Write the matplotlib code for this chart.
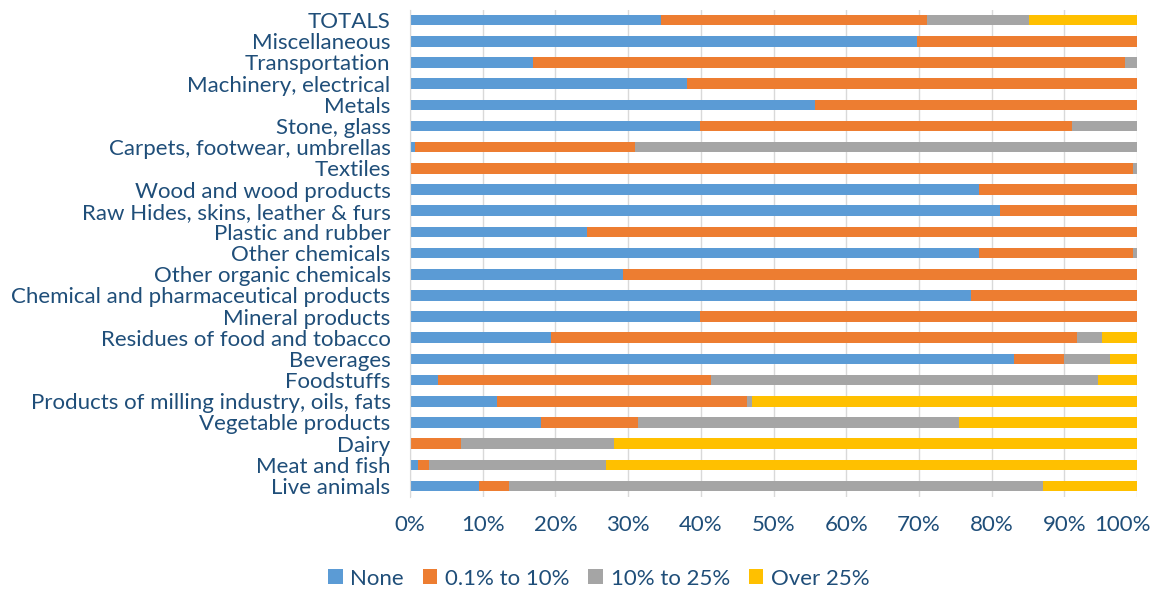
import matplotlib.pyplot as plt
import matplotlib.transforms as mtransforms
import numpy as np

plt.rcParams['font.family'] = ['Lato', 'DejaVu Sans']

# categories, bottom to top
categories = ['Live animals', 'Meat and fish', 'Dairy', 'Vegetable products',
              'Products of milling industry, oils, fats', 'Foodstuffs', 'Beverages',
              'Residues of food and tobacco', 'Mineral products',
              'Chemical and pharmaceutical products', 'Other organic chemicals',
              'Other chemicals', 'Plastic and rubber', 'Raw Hides, skins, leather & furs',
              'Wood and wood products', 'Textiles', 'Carpets, footwear, umbrellas',
              'Stone, glass', 'Metals', 'Machinery, electrical', 'Transportation',
              'Miscellaneous', 'TOTALS']

none_ = [9.5, 1.1, 0.0, 18.0, 12.0, 3.9, 83.1, 19.4, 39.9, 77.1, 29.3, 78.3, 24.4,
         81.2, 78.3, 0.0, 0.7, 39.9, 55.7, 38.1, 16.9, 69.7, 34.5]
low = [4.1, 1.5, 7.0, 13.4, 34.3, 37.5, 6.8, 72.3, 60.1, 22.9, 70.7, 21.2, 75.6,
       18.8, 21.7, 99.4, 30.2, 51.1, 44.3, 61.9, 81.4, 30.3, 36.6]
mid = [73.5, 24.3, 21.1, 44.1, 0.8, 53.2, 6.4, 3.5, 0.0, 0.0, 0.0, 0.5, 0.0,
       0.0, 0.0, 0.6, 69.1, 9.0, 0.0, 0.0, 1.7, 0.0, 14.1]
high = [12.9, 73.1, 71.9, 24.5, 52.9, 5.4, 3.7, 4.8, 0.0, 0.0, 0.0, 0.0, 0.0,
        0.0, 0.0, 0.0, 0.0, 0.0, 0.0, 0.0, 0.0, 0.0, 14.8]

series = ['None', '0.1% to 10%', '10% to 25%', 'Over 25%']
colors = ['#5B9BD5', '#ED7D31', '#A5A5A5', '#FFC000']
text_color = '#1F4E79'

fig = plt.figure(figsize=(11.54, 5.94), dpi=100)
ax = fig.add_axes([0.3553, 0.164, 0.630, 0.820])

y = np.arange(len(categories))
left = np.zeros(len(categories))
for vals, name, c in zip([none_, low, mid, high], series, colors):
    ax.barh(y, vals, left=left, height=0.5, color=c, label=name, zorder=2)
    left += np.array(vals)

ax.set_xlim(0, 100)
ax.set_ylim(-0.5, len(categories) - 0.5)
ax.set_xticks(np.arange(0, 101, 10))
ax.set_xticklabels(['%d%%' % v for v in range(0, 101, 10)])
ax.set_yticks(y)
ax.set_yticklabels(categories)
ax.tick_params(axis='both', length=0, labelsize=16, labelcolor=text_color)
ax.tick_params(axis='x', pad=13)
ax.tick_params(axis='y', pad=14)
ax.xaxis.grid(True, color='#D9D9D9', linewidth=1, zorder=0)
for s in ['top', 'right', 'bottom']:
    ax.spines[s].set_visible(False)
ax.spines['left'].set_color('#D9D9D9')

# last tick label pulled inside like Excel does
last = ax.get_xticklabels()[-1]
last.set_horizontalalignment('right')
last.set_transform(last.get_transform() +
                   mtransforms.ScaledTranslation(0.14, 0, fig.dpi_scale_trans))

leg = fig.legend(loc='center', bbox_to_anchor=(0.519, 0.026), ncol=4, frameon=False,
                 fontsize=16, handlelength=0.65, handleheight=0.65, handletextpad=0.35,
                 columnspacing=0.85)
for t in leg.get_texts():
    t.set_color(text_color)

fig.savefig('out.png', dpi=100)
